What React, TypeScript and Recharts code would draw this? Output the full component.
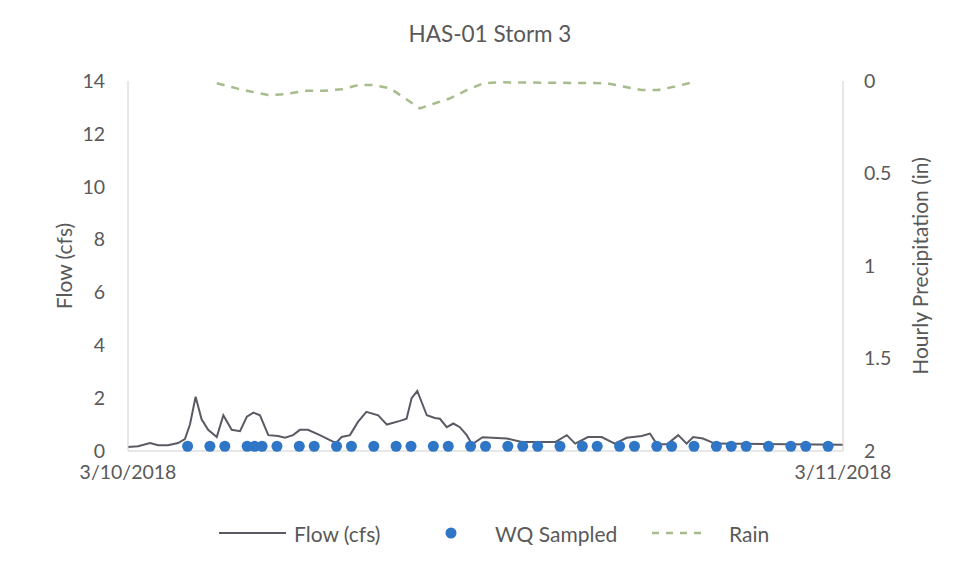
import React from "react";
import { ComposedChart, Line, Scatter, XAxis, YAxis, Legend, Label } from "recharts";

// hours after midnight 3/10/2018, flow in cfs
const flowHours = [
  0, 0.34, 0.74, 1.01, 1.34, 1.68, 1.91, 2.08, 2.27, 2.47, 2.69, 2.98, 3.2, 3.48, 3.76, 3.99,
  4.21, 4.43, 4.71, 5.04, 5.27, 5.54, 5.77, 6.04, 6.44, 6.71, 6.98, 7.17, 7.45, 7.72, 8.0, 8.4,
  8.69, 9.13, 9.35, 9.52, 9.71, 10.03, 10.3, 10.47, 10.7, 10.92, 11.14, 11.37, 11.55, 11.9,
  12.72, 13.22, 14.34, 14.73, 15.01, 15.44, 15.9, 16.34, 16.74, 17.24, 17.52, 17.75, 18.1,
  18.47, 18.75, 18.97, 19.3, 19.7, 24,
];
const flowCfs = [
  0.15, 0.18, 0.3, 0.22, 0.22, 0.3, 0.45, 1.0, 2.05, 1.2, 0.8, 0.53, 1.35, 0.8, 0.75, 1.3,
  1.45, 1.35, 0.6, 0.57, 0.5, 0.6, 0.8, 0.8, 0.6, 0.45, 0.3, 0.53, 0.6, 1.1, 1.48, 1.35,
  1.0, 1.14, 1.22, 2.0, 2.27, 1.35, 1.25, 1.22, 0.9, 1.04, 0.9, 0.6, 0.25, 0.52,
  0.47, 0.34, 0.34, 0.6, 0.28, 0.53, 0.53, 0.28, 0.5, 0.57, 0.66, 0.26, 0.26,
  0.6, 0.28, 0.53, 0.47, 0.28, 0.24,
];

// water quality sample times, drawn at a fixed marker level
const sampleHours = [
  2, 2.75, 3.25, 4, 4.25, 4.5, 5, 5.75, 6.25, 7, 7.5, 8.25, 9, 9.5, 10.25, 10.75, 11.5, 12,
  12.75, 13.25, 13.75, 14.5, 15.25, 15.75, 16.5, 17, 17.75, 18.25, 19, 19.75, 20.25, 20.75,
  21.5, 22.25, 22.75, 23.5,
];
const sampleLevel = 0.18;

// hourly precipitation, inches (plotted on reversed right axis)
const rainHours = [
  2.98, 3.65, 4.15, 4.71, 5.33, 5.94, 6.56, 7.17, 7.73, 8.23, 8.8, 9.3, 9.8, 10.31, 10.81,
  11.37, 11.93, 12.43, 16.07, 16.62, 17.24, 17.79, 18.36, 19.0,
];
const rainInches = [
  0.012, 0.04, 0.058, 0.076, 0.07, 0.053, 0.053, 0.045, 0.022, 0.022, 0.04, 0.094, 0.148,
  0.12, 0.094, 0.049, 0.012, 0.007, 0.012, 0.03, 0.049, 0.049, 0.03, 0.005,
];

const flowTicks = [0, 2, 4, 6, 8, 10, 12, 14];
const rainTicks = [0, 0.5, 1, 1.5, 2];
const dateTicks = [0, 24];
const dateLabels = ["3/10/2018", "3/11/2018"];

const flowData = flowHours.map((t, i) => ({ t, v: flowCfs[i] }));
const sampleData = sampleHours.map((t) => ({ t, v: sampleLevel }));
const rainData = rainHours.map((t, i) => ({ t, r: rainInches[i] }));

const TEXT = "#595959";
const AXIS = "#d0d0d0";
const FLOW = "#5a5a64";
const DOT = "#2f76c7";
const RAIN = "#a6bc8c";
const TICK_FONT = 19.5;
const LABEL_FONT = 21;

function AxisTitle({ viewBox, value, dx }: any) {
  const cx = viewBox.x + dx;
  const cy = viewBox.y + viewBox.height / 2;
  return (
    <text
      x={cx}
      y={cy}
      transform={`rotate(-90 ${cx} ${cy})`}
      textAnchor="middle"
      dominantBaseline="central"
      fill={TEXT}
      fontSize={LABEL_FONT}
    >
      {value}
    </text>
  );
}

function LegendRow() {
  return (
    <svg width={964} height={30} style={{ display: "block" }}>
      <g fontSize={LABEL_FONT} fill={TEXT}>
        <line x1={219} x2={286} y1={15} y2={15} stroke={FLOW} strokeWidth={2} />
        <text x={294} y={15} dominantBaseline="central">Flow (cfs)</text>
        <circle cx={451} cy={15} r={5.5} fill={DOT} />
        <text x={495} y={15} dominantBaseline="central">WQ Sampled</text>
        <line x1={652} x2={702} y1={15} y2={15} stroke={RAIN} strokeWidth={2.5} strokeDasharray="7 7" />
        <text x={729} y={15} dominantBaseline="central">Rain</text>
      </g>
    </svg>
  );
}

export default function App() {
  return (
    <div
      style={{
        position: "absolute",
        left: 0,
        top: 0,
        width: 964,
        height: 571,
        background: "#fff",
        fontFamily: "Lato, 'Noto Sans', sans-serif",
      }}
    >
      <div
        style={{
          position: "absolute",
          top: 20,
          left: 0,
          width: 980,
          textAlign: "center",
          fontSize: 22.5,
          color: TEXT,
        }}
      >
        HAS-01 Storm 3
      </div>
      <ComposedChart
        width={964}
        height={571}
        margin={{ top: 81, right: 21, bottom: 90, left: 20 }}
      >
        <XAxis
          dataKey="t"
          type="number"
          domain={[0, 24]}
          ticks={dateTicks}
          tickFormatter={(v) => dateLabels[dateTicks.indexOf(v)]}
          height={30}
          stroke={AXIS}
          tickLine={false}
          tickSize={0}
          tickMargin={14}
          tick={{ fill: TEXT, fontSize: TICK_FONT }}
          interval={0}
        />
        <YAxis
          yAxisId="left"
          type="number"
          domain={[0, 14]}
          ticks={flowTicks}
          width={108}
          stroke={AXIS}
          tickLine={false}
          tickSize={0}
          tickMargin={23}
          tick={{ fill: TEXT, fontSize: TICK_FONT }}
          interval={0}
        >
          <Label content={(p: any) => <AxisTitle viewBox={p.viewBox} value="Flow (cfs)" dx={43} />} />
        </YAxis>
        <YAxis
          yAxisId="right"
          orientation="right"
          type="number"
          domain={[0, 2]}
          reversed
          ticks={rainTicks}
          width={100}
          stroke={AXIS}
          tickLine={false}
          tickSize={0}
          tickMargin={21}
          tick={{ fill: TEXT, fontSize: TICK_FONT }}
          interval={0}
        >
          <Label
            content={(p: any) => (
              <AxisTitle viewBox={p.viewBox} value="Hourly Precipitation (in)" dx={76} />
            )}
          />
        </YAxis>
        <Line
          data={rainData}
          yAxisId="right"
          dataKey="r"
          type="linear"
          stroke={RAIN}
          strokeWidth={2.5}
          strokeDasharray="8 7"
          dot={false}
          isAnimationActive={false}
        />
        <Line
          data={flowData}
          yAxisId="left"
          dataKey="v"
          type="linear"
          stroke={FLOW}
          strokeWidth={2}
          dot={false}
          isAnimationActive={false}
        />
        <Scatter
          data={sampleData}
          yAxisId="left"
          dataKey="v"
          fill={DOT}
          shape={(p: any) => <circle cx={p.cx} cy={p.cy} r={5.5} fill={DOT} />}
          isAnimationActive={false}
        />
        <Legend
          layout="vertical"
          verticalAlign="middle"
          align="center"
          wrapperStyle={{ left: 0, top: 518, width: 964 }}
          content={() => <LegendRow />}
        />
      </ComposedChart>
    </div>
  );
}
